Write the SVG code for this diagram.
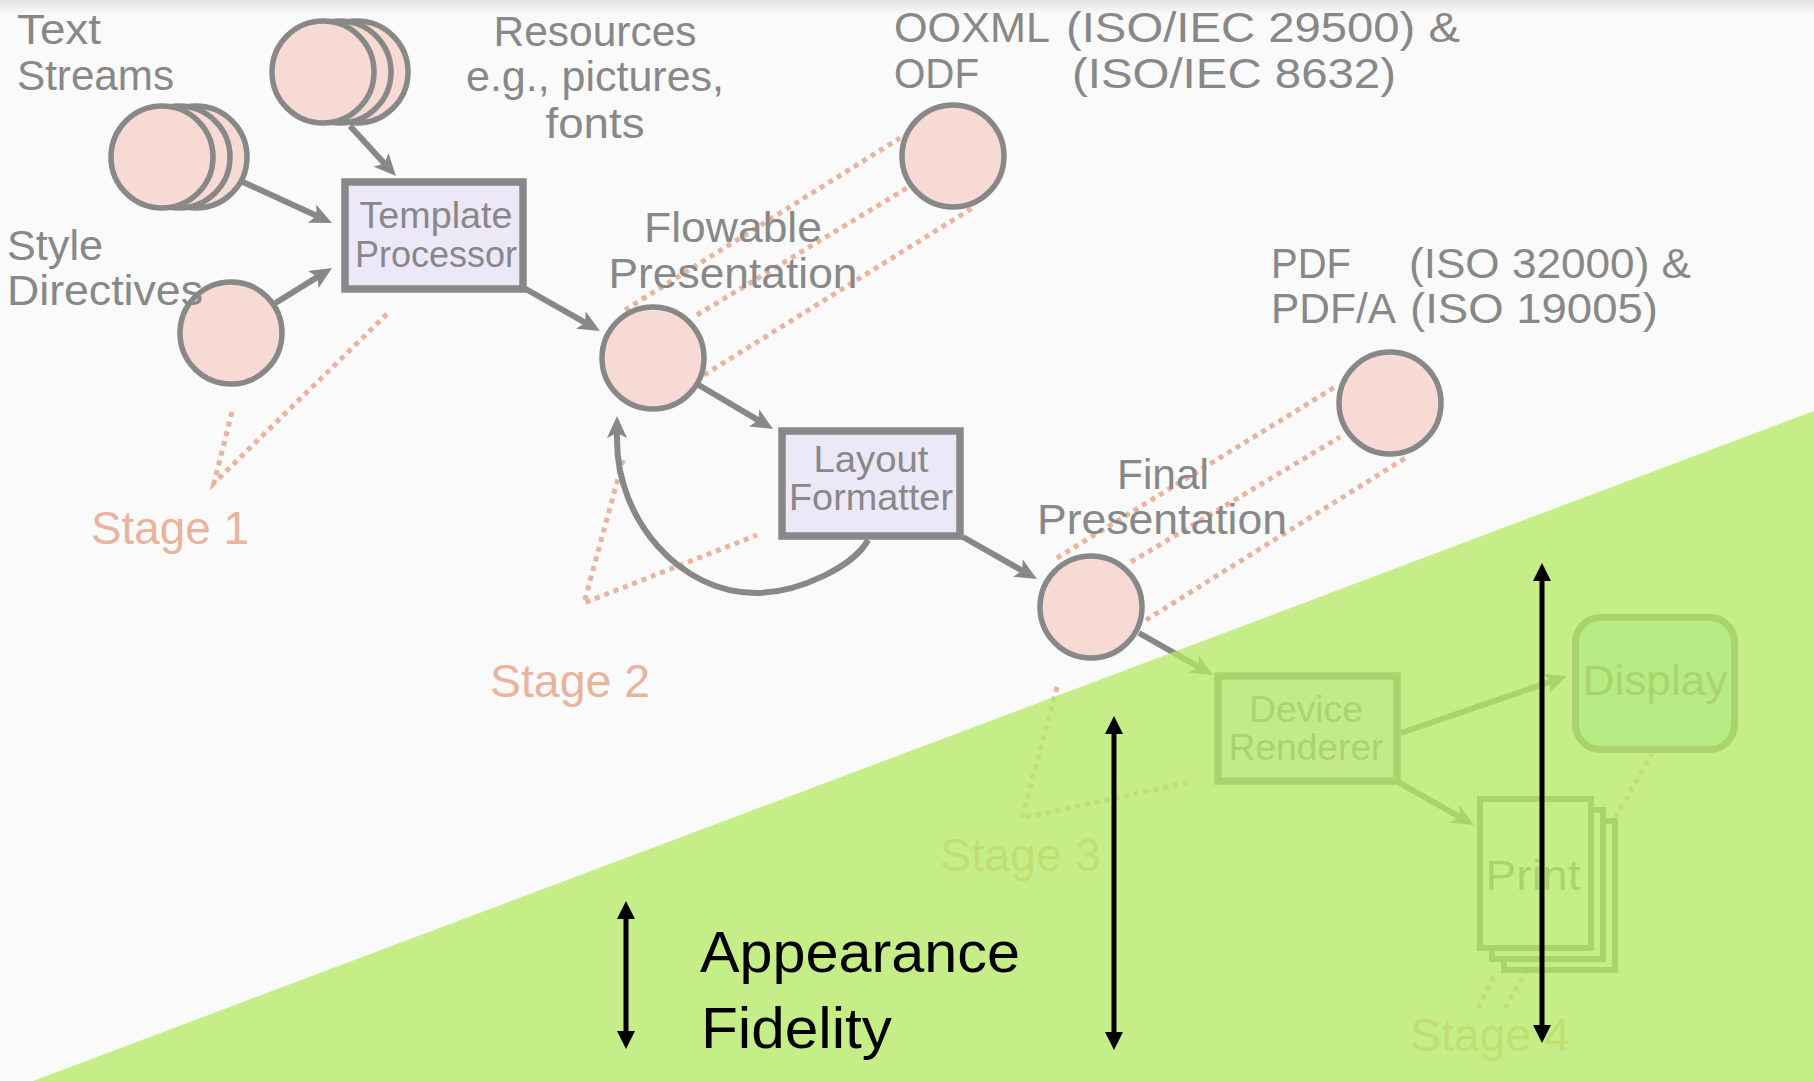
<svg xmlns="http://www.w3.org/2000/svg" width="1814" height="1081" viewBox="0 0 1814 1081">
  <defs>
    <linearGradient id="topShade" x1="0" y1="0" x2="0" y2="1">
      <stop offset="0" stop-color="#e2e2e2"/>
      <stop offset="1" stop-color="#fafafa"/>
    </linearGradient>
    <marker id="head" markerUnits="userSpaceOnUse" viewBox="0 0 22 20" markerWidth="22" markerHeight="20" refX="8" refY="10" orient="auto">
      <path d="M0,0 L22,10 L0,20 L5,10 z" fill="#888"/>
    </marker>
    <marker id="bhead" markerUnits="userSpaceOnUse" viewBox="0 0 18 18" markerWidth="18" markerHeight="18" refX="2" refY="9" orient="auto-start-reverse">
      <path d="M0,0 L18,9 L0,18 z" fill="#000"/>
    </marker>
    <style>
      text { font-family: "Liberation Sans", Arial, sans-serif; }
      .lbl { fill: #888; font-size: 42px; }
      .boxlbl { fill: #888; font-size: 37px; text-anchor: middle; }
      .stage { fill: #e9b49d; font-size: 46px; }
      .blob { fill: #f8dad4; stroke: #888; stroke-width: 5.5; }
      .box { fill: #ece8f8; stroke: #888; stroke-width: 7.5; }
      .page { fill: #fafafa; stroke: #888; stroke-width: 6; }
      .conn { stroke: #888; stroke-width: 6; fill: none; marker-end: url(#head); }
      .call { stroke: #e9b49d; stroke-width: 5; stroke-dasharray: 5 5; fill: none; }
      .fid { stroke: #000; stroke-width: 5; marker-start: url(#bhead); marker-end: url(#bhead); }
      .mid { text-anchor: middle; }
    </style>
  </defs>

  <!-- page background with a soft shade along the top edge -->
  <rect x="0" y="0" width="1814" height="1081" fill="#fafafa"/>
  <rect x="0" y="0" width="1814" height="14" fill="url(#topShade)"/>

  <!-- stage call-outs and format projection lines -->
  <g id="callouts">
    <polyline class="call" points="232,412 214,483 390,311"/>
    <polyline class="call" points="623,460 584,603 757,535"/>
    <polyline class="call" points="1057,687 1022,818 1190,782"/>
    <line class="call" x1="1478" y1="1008" x2="1494" y2="976"/>
    <line class="call" x1="1505" y1="1008" x2="1652" y2="754"/>
    <line class="call" x1="625" y1="310" x2="900" y2="138"/>
    <line class="call" x1="697" y1="315" x2="907" y2="188"/>
    <line class="call" x1="704" y1="375" x2="974" y2="207"/>
    <line class="call" x1="1057" y1="558" x2="1335" y2="387"/>
    <line class="call" x1="1131" y1="562" x2="1340" y2="437"/>
    <line class="call" x1="1146" y1="620" x2="1407" y2="457"/>
  </g>

  <!-- data flow connectors -->
  <g id="connectors">
    <line class="conn" x1="350" y1="126" x2="386.5" y2="165.7"/>
    <line class="conn" x1="243" y1="182" x2="319.3" y2="217.1"/>
    <line class="conn" x1="275.5" y1="303" x2="320.1" y2="275.4"/>
    <line class="conn" x1="524" y1="288" x2="587.8" y2="324.1"/>
    <line class="conn" x1="697" y1="384" x2="761" y2="421.9"/>
    <line class="conn" x1="963" y1="537" x2="1024.8" y2="572.1"/>
    <line class="conn" x1="1139" y1="633" x2="1200.8" y2="668.1"/>
    <line class="conn" x1="1401" y1="733" x2="1553.8" y2="680.5"/>
    <line class="conn" x1="1398" y1="782" x2="1461.8" y2="818.1"/>
    <path class="conn" d="M868,540 C855,565 800,593 756,593 C680,593 617,520 617,440 L617,430"/>
  </g>

  <!-- inputs -->
  <g id="text-streams">
    <circle class="blob" cx="196" cy="157" r="51"/>
    <circle class="blob" cx="179" cy="157" r="51"/>
    <circle class="blob" cx="162" cy="157" r="51"/>
  </g>
  <g id="resources">
    <circle class="blob" cx="357" cy="72" r="51"/>
    <circle class="blob" cx="340" cy="72" r="51"/>
    <circle class="blob" cx="323" cy="72" r="51"/>
  </g>
  <g id="style-directives">
    <circle class="blob" cx="231" cy="333" r="51"/>
  </g>

  <!-- processing stages -->
  <g id="template-processor">
    <rect class="box" x="345" y="182" width="178" height="107"/>
    <text class="boxlbl" x="436" y="228" textLength="153" lengthAdjust="spacingAndGlyphs">Template</text>
    <text class="boxlbl" x="436" y="267" textLength="162" lengthAdjust="spacingAndGlyphs">Processor</text>
  </g>
  <g id="flowable-presentation">
    <circle class="blob" cx="653" cy="358" r="51"/>
  </g>
  <g id="ooxml-odf">
    <circle class="blob" cx="953" cy="156" r="51"/>
  </g>
  <g id="layout-formatter">
    <rect class="box" x="782" y="431" width="178" height="105"/>
    <text class="boxlbl" x="871" y="472" textLength="115" lengthAdjust="spacingAndGlyphs">Layout</text>
    <text class="boxlbl" x="871" y="510" textLength="164" lengthAdjust="spacingAndGlyphs">Formatter</text>
  </g>
  <g id="final-presentation">
    <circle class="blob" cx="1091" cy="607" r="51"/>
  </g>
  <g id="pdf">
    <circle class="blob" cx="1390" cy="403" r="51"/>
  </g>
  <g id="device-renderer">
    <rect class="box" x="1218" y="676" width="179" height="105"/>
    <text class="boxlbl" x="1306" y="722" textLength="114" lengthAdjust="spacingAndGlyphs">Device</text>
    <text class="boxlbl" x="1306" y="760" textLength="155" lengthAdjust="spacingAndGlyphs">Renderer</text>
  </g>
  <g id="display">
    <rect x="1575.5" y="617.5" width="159" height="132" rx="25" fill="#b9eae0" stroke="#888" stroke-width="7"/>
    <text class="lbl mid" x="1655" y="695" font-size="44" textLength="145" lengthAdjust="spacingAndGlyphs">Display</text>
  </g>
  <g id="print">
    <rect class="page" x="1504" y="821" width="111" height="149"/>
    <rect class="page" x="1492" y="810" width="111" height="149"/>
    <rect class="page" x="1480" y="799" width="111" height="149"/>
    <text class="lbl mid" x="1533" y="890" font-size="46" textLength="95" lengthAdjust="spacingAndGlyphs">Print</text>
  </g>

  <!-- node captions -->
  <g id="captions">
    <text class="lbl" x="17" y="44" textLength="84" lengthAdjust="spacingAndGlyphs">Text</text>
    <text class="lbl" x="17" y="90" textLength="157" lengthAdjust="spacingAndGlyphs">Streams</text>
    <text class="lbl" x="7" y="260" textLength="96" lengthAdjust="spacingAndGlyphs">Style</text>
    <text class="lbl" x="7" y="305" textLength="196" lengthAdjust="spacingAndGlyphs">Directives</text>
    <text class="lbl mid" x="595" y="46" textLength="203" lengthAdjust="spacingAndGlyphs">Resources</text>
    <text class="lbl mid" x="595" y="91" textLength="258" lengthAdjust="spacingAndGlyphs">e.g., pictures,</text>
    <text class="lbl mid" x="595" y="138" textLength="99" lengthAdjust="spacingAndGlyphs">fonts</text>
    <text class="lbl" x="894" y="42" textLength="156" lengthAdjust="spacingAndGlyphs">OOXML</text>
    <text class="lbl" x="1066" y="42" textLength="394" lengthAdjust="spacingAndGlyphs">(ISO/IEC 29500) &amp;</text>
    <text class="lbl" x="894" y="88" textLength="85" lengthAdjust="spacingAndGlyphs">ODF</text>
    <text class="lbl" x="1072" y="88" textLength="324" lengthAdjust="spacingAndGlyphs">(ISO/IEC 8632)</text>
    <text class="lbl mid" x="733" y="242" textLength="178" lengthAdjust="spacingAndGlyphs">Flowable</text>
    <text class="lbl mid" x="733" y="288" textLength="249" lengthAdjust="spacingAndGlyphs">Presentation</text>
    <text class="lbl mid" x="1163" y="489" textLength="92" lengthAdjust="spacingAndGlyphs">Final</text>
    <text class="lbl mid" x="1162" y="534" textLength="250" lengthAdjust="spacingAndGlyphs">Presentation</text>
    <text class="lbl" x="1271" y="278" textLength="80" lengthAdjust="spacingAndGlyphs">PDF</text>
    <text class="lbl" x="1409" y="278" textLength="282" lengthAdjust="spacingAndGlyphs">(ISO 32000) &amp;</text>
    <text class="lbl" x="1271" y="323" textLength="125" lengthAdjust="spacingAndGlyphs">PDF/A</text>
    <text class="lbl" x="1410" y="323" textLength="248" lengthAdjust="spacingAndGlyphs">(ISO 19005)</text>
  </g>

  <!-- stage labels -->
  <g id="stages">
    <text class="stage" x="91" y="544" textLength="158" lengthAdjust="spacingAndGlyphs">Stage 1</text>
    <text class="stage" x="490" y="697" textLength="160" lengthAdjust="spacingAndGlyphs">Stage 2</text>
    <text class="stage" x="940" y="871" textLength="161" lengthAdjust="spacingAndGlyphs">Stage 3</text>
    <text class="stage" x="1410" y="1051" textLength="160" lengthAdjust="spacingAndGlyphs">Stage 4</text>
  </g>

  <!-- appearance fidelity wedge -->
  <polygon id="fidelity-wedge" points="33,1081 1814,411 1814,1081" fill="#b5ea66" fill-opacity="0.77"/>

  <!-- fidelity scale -->
  <g id="fidelity-scale">
    <line class="fid" x1="626" y1="917" x2="626" y2="1033"/>
    <line class="fid" x1="1114" y1="732" x2="1114" y2="1034"/>
    <line class="fid" x1="1542" y1="579" x2="1542" y2="1027"/>
    <text x="700" y="972" font-size="58" fill="#000" textLength="320" lengthAdjust="spacingAndGlyphs">Appearance</text>
    <text x="701" y="1048" font-size="58" fill="#000" textLength="191" lengthAdjust="spacingAndGlyphs">Fidelity</text>
  </g>
</svg>
